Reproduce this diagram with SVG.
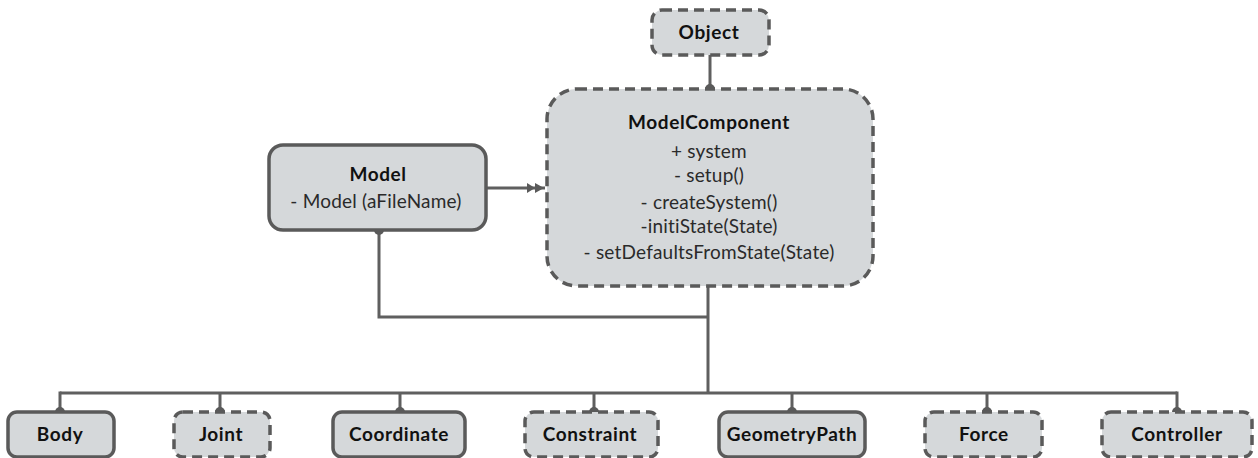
<svg xmlns="http://www.w3.org/2000/svg" width="1258" height="458" viewBox="0 0 1258 458">
<defs>
<style>
.box{fill:#d5d8da;stroke:#5a5a5a;stroke-width:3.5}
.dash{stroke-dasharray:10 6}
.conn{fill:none;stroke:#5f5f5f;stroke-width:3}
.dot{fill:#5a5a5a}
.ah{fill:#5a5a5a}
text{font-family:Lato,"Open Sans","Liberation Sans",sans-serif;text-anchor:middle;fill:#222}
.b{font-weight:bold;font-size:19px;letter-spacing:0.6px;fill:#111}
.r{font-size:19px;letter-spacing:0.2px;fill:#2a2a2a}
</style>
</defs>
<rect width="1258" height="458" fill="#ffffff"/>
<g id="connectors">
<line class="conn" x1="710" y1="55" x2="710" y2="89"/>
<circle class="dot" cx="710" cy="89" r="5"/>
<line class="conn" x1="486" y1="188" x2="545" y2="188"/>
<polygon class="ah" points="527,183 535,188 527,193"/>
<polygon class="ah" points="535,183 544,188 535,193"/>
<polyline class="conn" points="379,230 379,317 708,317"/>
<circle class="dot" cx="379" cy="230" r="5"/>
<line class="conn" x1="708" y1="286" x2="708" y2="393"/>
<line class="conn" x1="60" y1="393" x2="1177" y2="393"/>
<polyline class="conn" points="60,391.5 60,412"/>
<polyline class="conn" points="220,393 220,412"/>
<polyline class="conn" points="400,393 400,412"/>
<polyline class="conn" points="594,393 594,412"/>
<polyline class="conn" points="792,393 792,412"/>
<polyline class="conn" points="987,393 987,412"/>
<polyline class="conn" points="1177,391.5 1177,412"/>
<circle class="dot" cx="60" cy="412" r="5"/>
<circle class="dot" cx="220" cy="412" r="5"/>
<circle class="dot" cx="400" cy="412" r="5"/>
<circle class="dot" cx="594" cy="412" r="5"/>
<circle class="dot" cx="792" cy="412" r="5"/>
<circle class="dot" cx="987" cy="412" r="5"/>
<circle class="dot" cx="1177" cy="412" r="5"/>
</g>
<g id="object">
<rect class="box dash" x="652" y="10" width="117" height="45" rx="10"/>
<text class="b" x="709" y="39">Object</text>
</g>
<g id="modelcomponent">
<rect class="box dash" x="547" y="89" width="326" height="197" rx="30"/>
<text class="b" x="709" y="129">ModelComponent</text>
<text class="r" x="709" y="158">+ system</text>
<text class="r" x="709" y="182">- setup()</text>
<text class="r" x="709" y="209">- createSystem()</text>
<text class="r" x="709" y="233">-initiState(State)</text>
<text class="r" x="709" y="259">- setDefaultsFromState(State)</text>
</g>
<g id="model">
<rect class="box" x="269" y="145" width="217" height="85" rx="14"/>
<text class="b" x="378" y="181">Model</text>
<text class="r" x="376" y="208">- Model (aFileName)</text>
</g>
<g id="body">
<rect class="box" x="8" y="412" width="106" height="45" rx="9"/>
<text class="b" x="60" y="441">Body</text>
</g>
<g id="joint">
<rect class="box dash" x="174" y="412" width="96" height="45" rx="9"/>
<text class="b" x="221" y="441">Joint</text>
</g>
<g id="coordinate">
<rect class="box" x="333" y="412" width="132" height="45" rx="9"/>
<text class="b" x="399" y="441">Coordinate</text>
</g>
<g id="constraint">
<rect class="box dash" x="525" y="412" width="133" height="45" rx="9"/>
<text class="b" x="590" y="441">Constraint</text>
</g>
<g id="geometrypath">
<rect class="box" x="719" y="412" width="146" height="45" rx="9"/>
<text class="b" x="792" y="441">GeometryPath</text>
</g>
<g id="force">
<rect class="box dash" x="925" y="412" width="117" height="45" rx="9"/>
<text class="b" x="984" y="441">Force</text>
</g>
<g id="controller">
<rect class="box dash" x="1102" y="412" width="150" height="45" rx="9"/>
<text class="b" x="1177" y="441">Controller</text>
</g>
</svg>
